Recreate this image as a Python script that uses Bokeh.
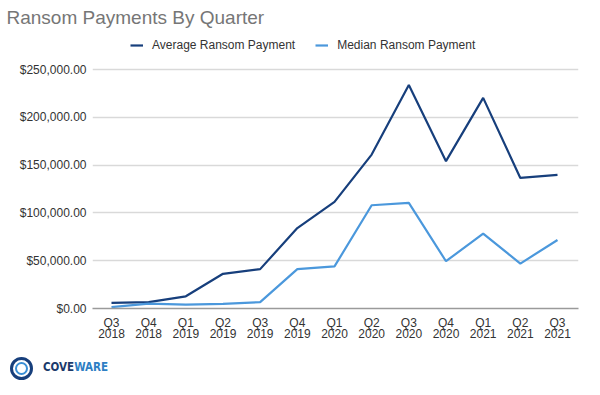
from bokeh.plotting import figure
from bokeh.layouts import column
from bokeh.models import (ColumnDataSource, FixedTicker, NumeralTickFormatter, Legend,
                          LegendItem, LinearAxis, Div)
from bokeh.embed import file_html
from bokeh.resources import INLINE

quarters = ["Q3", "Q4", "Q1", "Q2", "Q3", "Q4", "Q1", "Q2", "Q3", "Q4", "Q1", "Q2", "Q3"]
years = ["2018", "2018", "2019", "2019", "2019", "2019", "2020", "2020", "2020", "2020",
         "2021", "2021", "2021"]
average_payment = [5973, 6733, 12762, 36295, 41198, 84116, 111605, 161000, 233817,
                   154108, 220298, 136576, 139739]
median_payment = [1500, 5000, 4000, 4800, 6700, 41179, 44021, 108000, 110532,
                  49450, 78398, 47008, 71674]
y_ticks = [0, 50000, 100000, 150000, 200000, 250000]

x = list(range(len(quarters)))
src = ColumnDataSource(data=dict(x=x, avg=average_payment, med=median_payment))

AVG_C = "#173f7c"
MED_C = "#4b98dc"
FONT = "Liberation Sans"
LBL_C = "#333333"

p = figure(width=592, height=348, output_backend="svg", toolbar_location=None,
           x_range=(-0.511, 12.565), y_range=(0, 290795),
           min_border_left=92, min_border_right=14, min_border_top=30, min_border_bottom=40)
p.outline_line_color = None

p.title.text = "Ransom Payments By Quarter"
p.title.text_font = FONT
p.title.text_font_size = "19px"
p.title.text_color = "#767676"
p.title.text_font_style = "normal"
p.title.align = "left"
p.title.offset = -86
p.title.standoff = 5

l1 = p.line("x", "avg", source=src, line_color=AVG_C, line_width=2.2)
l2 = p.line("x", "med", source=src, line_color=MED_C, line_width=2.2)

legend = Legend(items=[LegendItem(label="Average Ransom Payment", renderers=[l1]),
                       LegendItem(label="Median Ransom Payment", renderers=[l2])],
                orientation="horizontal", location=(38, 255), padding=0, margin=0,
                spacing=20, glyph_width=13, glyph_height=16, label_standoff=9,
                label_text_font=FONT, label_text_font_size="12px", label_text_color=LBL_C,
                border_line_color=None, background_fill_alpha=0)
p.add_layout(legend, "center")

p.xaxis.ticker = FixedTicker(ticks=x)
p.xaxis.major_label_overrides = {i: s for i, s in zip(x, quarters)}
p.xaxis.major_tick_line_color = None
p.xaxis.major_tick_out = 0
p.xaxis.minor_tick_line_color = None
p.xaxis.axis_line_color = "#9a9a9a"
p.xaxis.axis_line_width = 1.5
p.xaxis.major_label_text_font = FONT
p.xaxis.major_label_text_font_size = "12px"
p.xaxis.major_label_text_color = LBL_C
p.xaxis.major_label_standoff = 7

year_axis = LinearAxis(ticker=FixedTicker(ticks=x),
                       major_label_overrides={i: s for i, s in zip(x, years)},
                       axis_line_color=None, major_tick_line_color=None,
                       minor_tick_line_color=None, major_tick_out=0, major_tick_in=0,
                       major_label_standoff=-4, major_label_text_font=FONT,
                       major_label_text_font_size="12px", major_label_text_color=LBL_C)
p.add_layout(year_axis, "below")

p.yaxis.ticker = FixedTicker(ticks=y_ticks)
p.yaxis.formatter = NumeralTickFormatter(format="$0,0.00")
p.yaxis.axis_line_color = None
p.yaxis.major_tick_line_color = None
p.yaxis.major_tick_out = 0
p.yaxis.minor_tick_line_color = None
p.yaxis.major_label_text_font = FONT
p.yaxis.major_label_text_font_size = "12px"
p.yaxis.major_label_text_color = LBL_C
p.yaxis.major_label_standoff = 6

p.xgrid.grid_line_color = None
p.ygrid.grid_line_color = "#d9d9d9"
p.ygrid.grid_line_width = 1.5

# logo strip (HTML)
logo_html = (
    '<div style="display:flex;align-items:center;height:40px;padding-left:10px;">'
    '<div style="box-sizing:border-box;width:23px;height:23px;border:3px solid #173f7c;'
    'border-radius:50%;display:flex;align-items:center;justify-content:center;">'
    '<div style="box-sizing:border-box;width:13px;height:13px;border:2px solid #3a8fd6;'
    'border-radius:50%;"></div>'
    '</div>'
    '<span style="margin-left:10px;font-family:\'DejaVu Sans Condensed\',\'DejaVu Sans\';'
    'font-weight:bold;font-size:11.5px;line-height:1;">'
    '<span style="color:#1b3a6b;">COVE</span><span style="color:#2e7fc4;">WARE</span>'
    '</span></div>'
)
logo = Div(text=logo_html, width=592, height=39, margin=0)

open("out.html", "w").write(file_html(column(p, logo, spacing=0), INLINE))
